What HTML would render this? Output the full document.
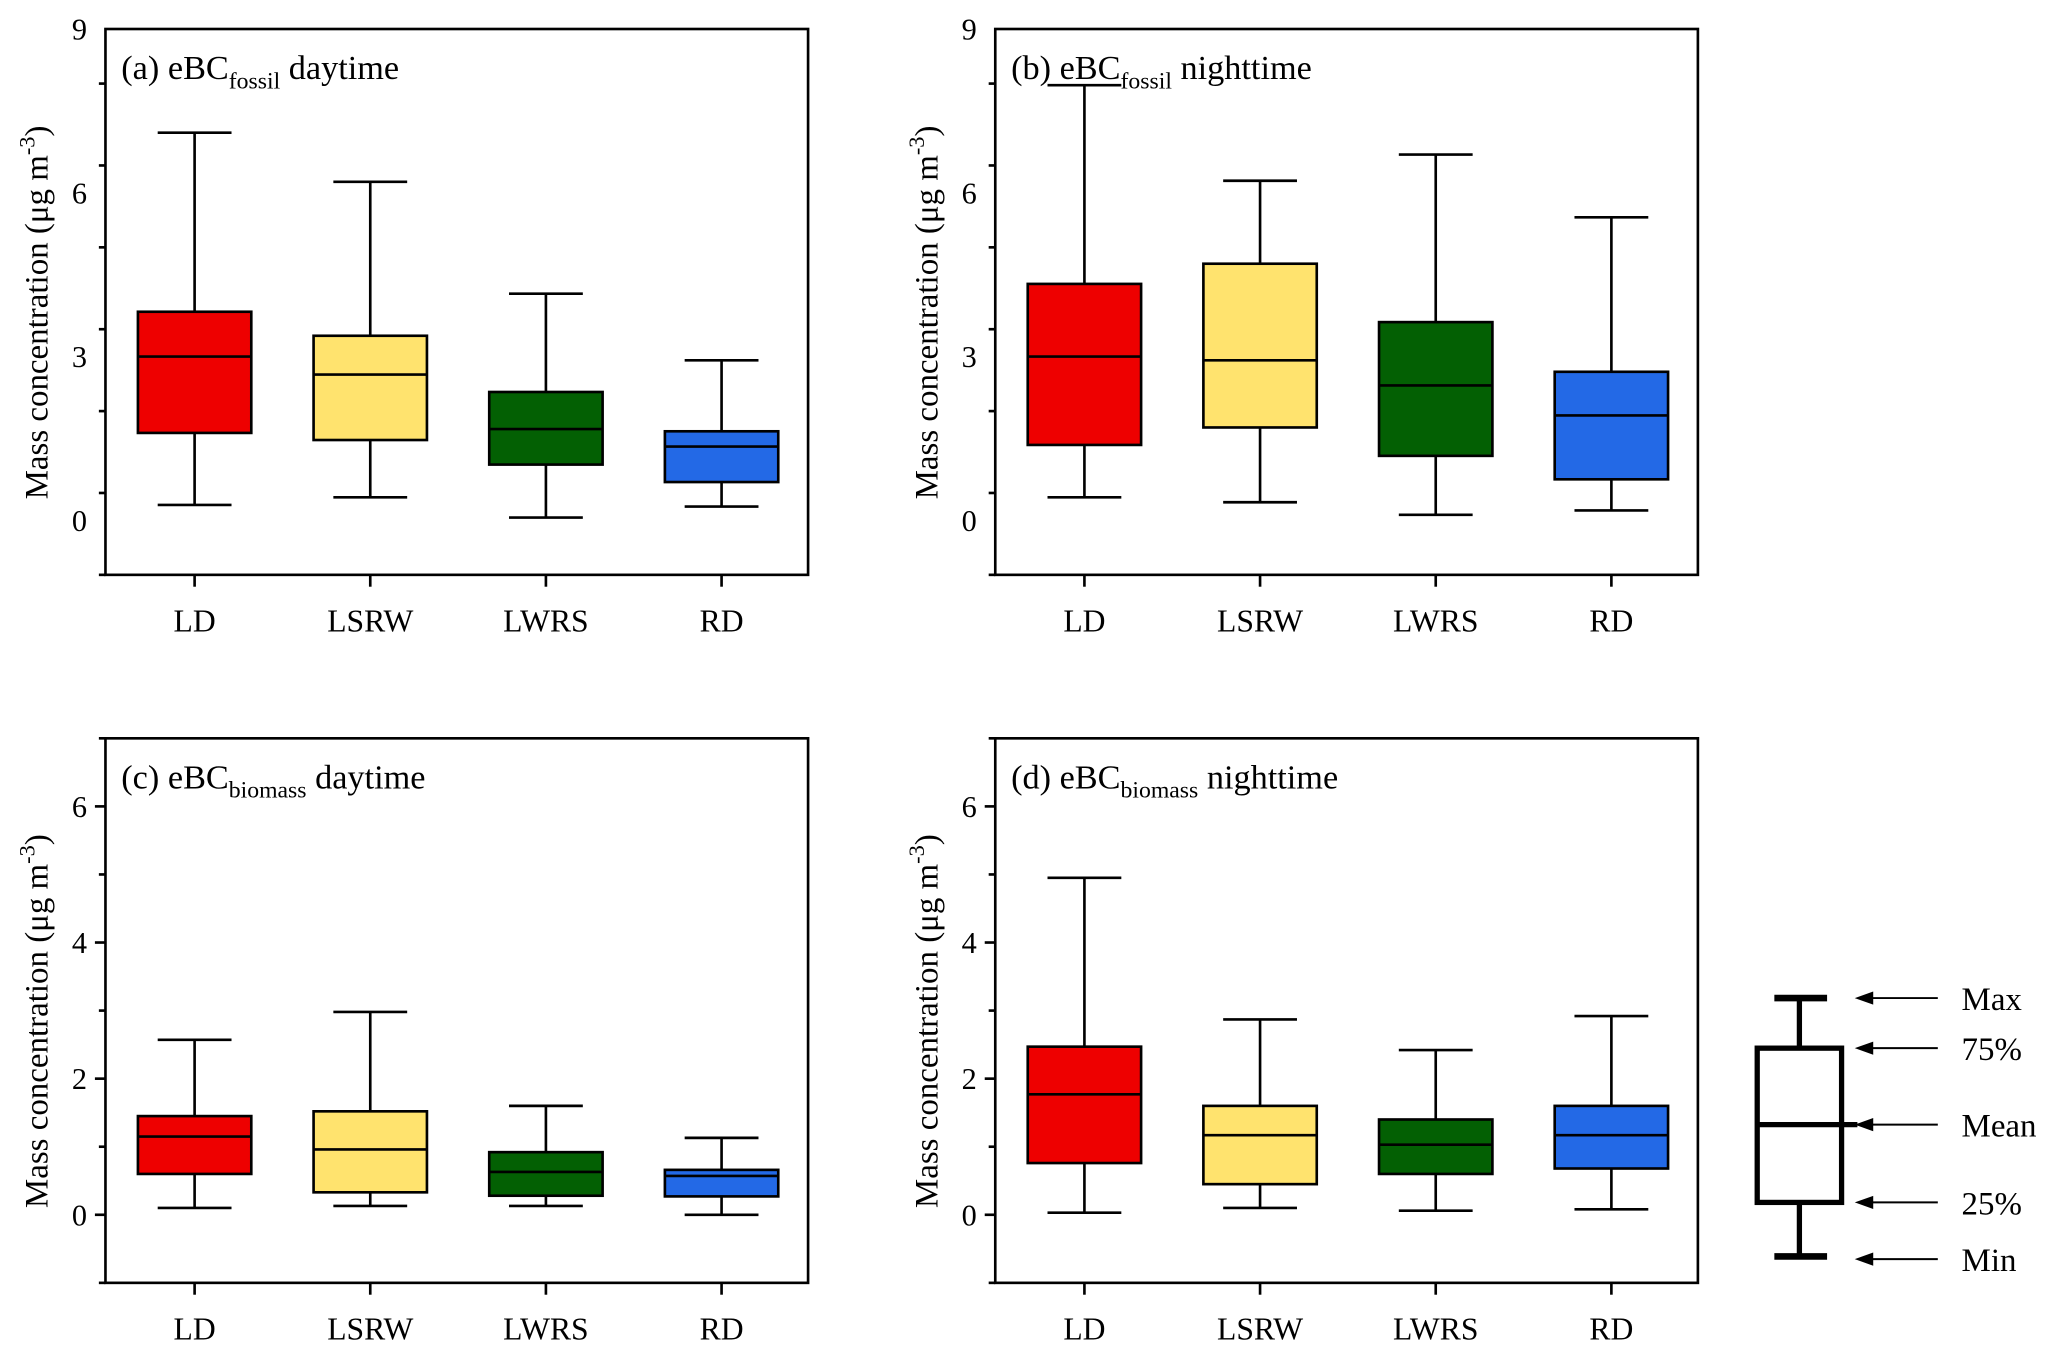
<!DOCTYPE html>
<html><head><meta charset="utf-8"><style>
html,body{margin:0;padding:0;background:#fff}
svg{display:block;font-family:"Liberation Serif",serif}
</style></head><body>
<svg id="chart" width="2067" height="1358" viewBox="0 0 1568 1030" preserveAspectRatio="none" xmlns="http://www.w3.org/2000/svg"></svg>
<script>
const categories = ["LD","LSRW","LWRS","RD"];
const colors = ["#ee0000","#ffe36e","#036003","#2369e6"];
// [min, q1, mean, q3, max]
const fossilDay   = [[0.28,1.6,3.0,3.82,7.1],[0.42,1.47,2.67,3.38,6.2],[0.05,1.02,1.67,2.35,4.15],[0.25,0.7,1.35,1.63,2.93]];
const fossilNight = [[0.42,1.38,3.0,4.33,7.97],[0.33,1.7,2.93,4.7,6.22],[0.1,1.18,2.47,3.63,6.7],[0.18,0.75,1.92,2.72,5.55]];
const biomassDay  = [[0.1,0.6,1.15,1.45,2.57],[0.13,0.33,0.96,1.52,2.98],[0.13,0.28,0.63,0.92,1.6],[0.0,0.27,0.57,0.66,1.13]];
const biomassNight= [[0.03,0.76,1.77,2.47,4.95],[0.1,0.45,1.17,1.6,2.87],[0.06,0.6,1.03,1.4,2.42],[0.08,0.68,1.17,1.6,2.92]];
const fossilTicks = [0,3,6,9];
const biomassTicks = [0,2,4,6];

const svg = document.getElementById('chart');
const NS = 'http://www.w3.org/2000/svg';
function mk(tag, attrs, parent){const e=document.createElementNS(NS,tag);for(const k in attrs)e.setAttribute(k,attrs[k]);(parent||svg).appendChild(e);return e;}

function panel(id, x0, y0, x1, y1, ymin, ymax, ticks, minorStep, data, label, sub, rest){
  const g = mk('g',{});
  
  
  const ys = v => y1 - (v - ymin) / (ymax - ymin) * (y1 - y0);
  const step = (x1 - x0) / 4;
  const xs = i => x0 + step * (i + 0.5) + 1;
  const f = mk('rect',{x:x0,y:y0,width:x1-x0,height:y1-y0,fill:'none',stroke:'#000','stroke-width':2},g);
   
  for(let v=ymin; v<=ymax+1e-9; v+=minorStep){
    const major = ticks.some(t=>Math.abs(t-v)<1e-9);
    mk('line',{x1:x0,x2:x0-(major?8:5),y1:ys(v),y2:ys(v),stroke:'#000','stroke-width':2},g);
  }
  ticks.forEach(t=>{
    const tx = mk('text',{x:x0-14,y:ys(t)+8,'text-anchor':'end','font-size':23},g);
    tx.textContent = t;
     
  });
  categories.forEach((c,i)=>{
    mk('line',{x1:xs(i),x2:xs(i),y1:y1,y2:y1+9,stroke:'#000','stroke-width':2},g);
    const tx = mk('text',{x:xs(i),y:y1+43,'text-anchor':'middle','font-size':24},g);
    tx.textContent = c;
     
  });
  const yt = mk('text',{transform:`translate(${x0-44},${(y0+y1)/2+8}) rotate(-90)`,'text-anchor':'middle','font-size':25},g);
  yt.innerHTML = 'Mass concentration (μg m<tspan dy="-10" font-size="17">-3</tspan><tspan dy="10">)</tspan>';
   
  const tt = mk('text',{x:x0+12,y:y0+38,'font-size':26},g);
  tt.innerHTML = label+'<tspan dy="7" font-size="18">'+sub+'</tspan><tspan dy="-7"> '+rest+'</tspan>';
   
  const bw = 86, cw = 56;
  data.forEach((d,i)=>{
    const bg = mk('g',{},g);
    
    
    const cx = xs(i);
    mk('line',{x1:cx,x2:cx,y1:ys(d[0]),y2:ys(d[1]),stroke:'#000','stroke-width':2},bg);
    mk('line',{x1:cx,x2:cx,y1:ys(d[3]),y2:ys(d[4]),stroke:'#000','stroke-width':2},bg);
    mk('line',{x1:cx-cw/2,x2:cx+cw/2,y1:ys(d[0]),y2:ys(d[0]),stroke:'#000','stroke-width':2},bg);
    mk('line',{x1:cx-cw/2,x2:cx+cw/2,y1:ys(d[4]),y2:ys(d[4]),stroke:'#000','stroke-width':2},bg);
    mk('rect',{x:cx-bw/2,y:ys(d[3]),width:bw,height:ys(d[1])-ys(d[3]),fill:colors[i],stroke:'#000','stroke-width':2},bg);
    mk('line',{x1:cx-bw/2,x2:cx+bw/2,y1:ys(d[2]),y2:ys(d[2]),stroke:'#000','stroke-width':2},bg);
  });
}
panel('a',80,22,613,436,-1,9,fossilTicks,1.5,fossilDay,'(a) eBC','fossil','daytime');
panel('b',755,22,1288,436,-1,9,fossilTicks,1.5,fossilNight,'(b) eBC','fossil','nighttime');
panel('c',80,560,613,973,-1,7,biomassTicks,1,biomassDay,'(c) eBC','biomass','daytime');
panel('d',755,560,1288,973,-1,7,biomassTicks,1,biomassNight,'(d) eBC','biomass','nighttime');

const lg = mk('g',{});
 
const L = {x:1333,w:64,cx:1365};
mk('line',{x1:L.cx,x2:L.cx,y1:757,y2:795,stroke:'#000','stroke-width':4},lg);
mk('line',{x1:L.cx,x2:L.cx,y1:912,y2:953,stroke:'#000','stroke-width':4},lg);
mk('line',{x1:1346,x2:1386,y1:757,y2:757,stroke:'#000','stroke-width':5},lg);
mk('line',{x1:1346,x2:1386,y1:953,y2:953,stroke:'#000','stroke-width':5},lg);
mk('rect',{x:L.x,y:795,width:L.w,height:117,fill:'none',stroke:'#000','stroke-width':4},lg);
mk('line',{x1:L.x,x2:1409,y1:853,y2:853,stroke:'#000','stroke-width':4},lg);
[[757,'Max'],[795,'75%'],[853,'Mean'],[912,'25%'],[955,'Min']].forEach(([y,t])=>{
  mk('line',{x1:1420,x2:1470,y1:y,y2:y,stroke:'#000','stroke-width':1.5},lg);
  mk('polygon',{points:`1407,${y} 1421,${y-5} 1421,${y+5}`,fill:'#000'},lg);
  const tx = mk('text',{x:1488,y:y+9,'font-size':25},lg);
  tx.textContent = t;
   
});
</script>
</body></html>
